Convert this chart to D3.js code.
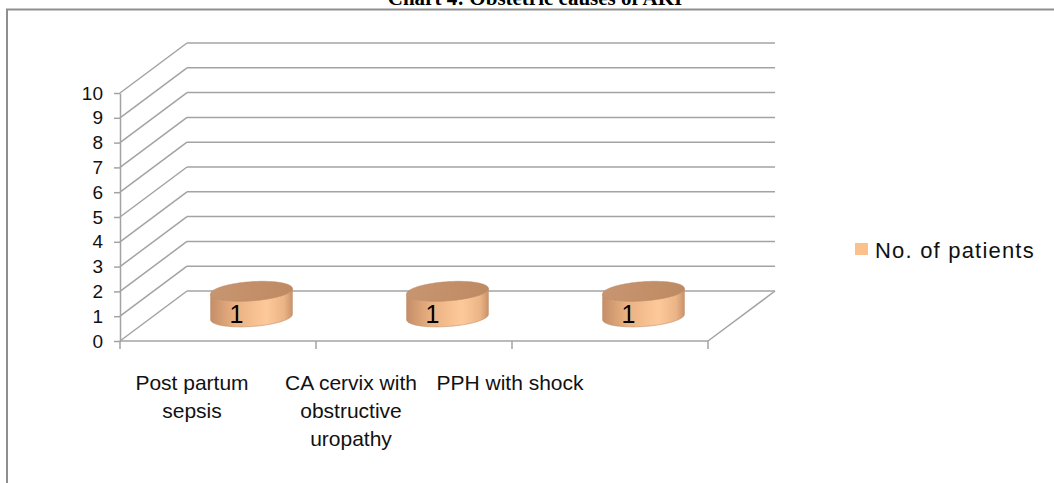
<!DOCTYPE html>
<html>
<head>
<meta charset="utf-8">
<script src="https://cdn.jsdelivr.net/npm/d3@7"></script>
<style>
  body { margin: 0; background: #fff; }
  svg { display: block; font-family: "Liberation Sans", Arial, sans-serif; }
</style>
</head>
<body>
<svg width="1054" height="483"></svg>
<script>
// data
const categories = ["Post partum sepsis", "CA cervix with obstructive uropathy", "PPH with shock"];
const labelLines = [["Post partum", "sepsis"], ["CA cervix with", "obstructive", "uropathy"], ["PPH with  shock"]];
const patients = [1, 1, 1];
const yTicks = [0, 1, 2, 3, 4, 5, 6, 7, 8, 9, 10];
const seriesName = "No. of patients";
const title = "Chart 4: Obstetric causes of AKI";

const svg = d3.select("svg");
const grid = "#a3a3a3";

// oblique 3d offset of the back wall
const dx = 67, dy = -50;

const y = d3.scaleLinear().domain([0, 10]).range([341, 93]);
const x = d3.scaleBand().domain(categories).range([120, 708]);
// excel drops the category labels a bit off the tick centres
const xl = d3.scalePoint().domain(categories).range([192, 510]);

// title, mostly cut off at the top
svg.append("text")
  .attr("x", 535).attr("y", 5)
  .attr("text-anchor", "middle")
  .style("font-family", "'Liberation Serif', 'Times New Roman', serif")
  .style("font-weight", "bold")
  .style("font-size", "21px")
  .text(title);

// frame
svg.append("path")
  .attr("d", "M7,483V9.5H1054")
  .attr("fill", "none")
  .attr("stroke", "#8f8f8f")
  .attr("stroke-width", 2);

const g = svg.append("g");

// back wall lines + diagonals on the side wall
yTicks.forEach(v => {
  g.append("line")
    .attr("x1", x.range()[0] + dx).attr("x2", x.range()[1] + dx)
    .attr("y1", y(v) + dy).attr("y2", y(v) + dy)
    .attr("stroke", grid).attr("stroke-width", 1.5);
  g.append("line")
    .attr("x1", x.range()[0]).attr("y1", y(v))
    .attr("x2", x.range()[0] + dx).attr("y2", y(v) + dy)
    .attr("stroke", grid).attr("stroke-width", 1.5);
});

// floor right edge
g.append("line")
  .attr("x1", x.range()[1]).attr("y1", y(0))
  .attr("x2", x.range()[1] + dx).attr("y2", y(0) + dy)
  .attr("stroke", grid).attr("stroke-width", 1.5);

// y axis
const yAxis = g.append("g")
  .attr("transform", `translate(${x.range()[0]},0)`)
  .call(d3.axisLeft(y).tickValues(yTicks).tickSize(6).tickSizeOuter(0).tickPadding(11));
yAxis.select(".domain").attr("stroke", grid).attr("stroke-width", 1.5);
yAxis.selectAll(".tick line").attr("stroke", grid).attr("stroke-width", 1.5);
yAxis.selectAll(".tick text")
  .style("font-size", "19px")
  .attr("fill", "#111");

// x axis (front floor edge, ticks at band edges)
g.append("line")
  .attr("x1", x.range()[0]).attr("x2", x.range()[1])
  .attr("y1", y(0)).attr("y2", y(0))
  .attr("stroke", grid).attr("stroke-width", 1.5);
const edges = categories.map(c => x(c)).concat([x.range()[1]]);
g.selectAll(".xtick").data(edges).enter().append("line")
  .attr("x1", d => d).attr("x2", d => d)
  .attr("y1", y(0)).attr("y2", y(0) + 8)
  .attr("stroke", grid).attr("stroke-width", 1.5);

// category labels
const cl = g.selectAll(".cat").data(categories).enter().append("text")
  .attr("text-anchor", "middle")
  .attr("x", d => xl(d))
  .attr("y", 390)
  .style("font-size", "21px")
  .attr("fill", "#111");
cl.each(function (d, i) {
  d3.select(this).selectAll("tspan").data(labelLines[i]).enter().append("tspan")
    .attr("x", xl(d))
    .attr("dy", (t, j) => j === 0 ? 0 : 28)
    .text(t => t);
});

// cylinder gradients
const defs = svg.append("defs");
const grad = defs.append("linearGradient").attr("id", "cyl")
  .attr("x1", "0%").attr("x2", "100%").attr("y1", "0%").attr("y2", "0%");
grad.append("stop").attr("offset", "0%").attr("stop-color", "#c58e68");
grad.append("stop").attr("offset", "30%").attr("stop-color", "#eab181");
grad.append("stop").attr("offset", "68%").attr("stop-color", "#fec99a");
grad.append("stop").attr("offset", "90%").attr("stop-color", "#ebb486");
grad.append("stop").attr("offset", "100%").attr("stop-color", "#c9936b");
const topGrad = defs.append("linearGradient").attr("id", "cylTop")
  .attr("x1", "0%").attr("x2", "100%").attr("y1", "0%").attr("y2", "0%");
topGrad.append("stop").attr("offset", "0%").attr("stop-color", "#c79570");
topGrad.append("stop").attr("offset", "100%").attr("stop-color", "#be8a63");

const rx = 41, ry = 9.5, tilt = -4 * Math.PI / 180;
// point on a slightly tilted ellipse
const ell = (cx, cy, t) => {
  const ex = rx * Math.cos(t), ey = ry * Math.sin(t);
  return [cx + ex * Math.cos(tilt) - ey * Math.sin(tilt), cy + ex * Math.sin(tilt) + ey * Math.cos(tilt)];
};
const line = d3.line();
const ts = d3.range(0, 61).map(k => k / 60 * Math.PI);

const cyl = g.selectAll(".cyl").data(categories).enter().append("g");
cyl.each(function (c, i) {
  const cx = x(c) + x.bandwidth() / 2 + dx / 2;
  const yb = y(0) + dy / 2 + 1;
  const yt = y(patients[i]) + dy / 2;
  const s = d3.select(this);
  // side: top front half, down, bottom front half back, up
  const bottom = ts.map(t => ell(cx, yb, t));          // right -> left along front
  const topPts = ts.map(t => ell(cx, yt, t)).reverse(); // left -> right
  s.append("path")
    .attr("d", line(topPts.concat(bottom)) + "Z")
    .attr("fill", "url(#cyl)")
    .attr("stroke", "#b9855f").attr("stroke-width", 0.5);
  s.append("path")
    .attr("d", line(d3.range(0, 121).map(k => ell(cx, yt, k / 120 * 2 * Math.PI))) + "Z")
    .attr("fill", "url(#cylTop)")
    .attr("stroke", "#b9855f").attr("stroke-width", 0.5);
  s.append("text")
    .attr("x", cx - 15).attr("y", yb + 6)
    .attr("text-anchor", "middle")
    .style("font-size", "25px")
    .attr("fill", "#000")
    .text(patients[i]);
});

// legend
const lg = svg.append("g").attr("transform", "translate(855,243)");
lg.append("rect").attr("width", 13).attr("height", 12).attr("fill", "#fbc08c");
lg.append("text").attr("x", 20).attr("y", 15)
  .style("font-size", "22px")
  .style("letter-spacing", "1.2px")
  .attr("fill", "#111")
  .text(seriesName);
</script>
</body>
</html>
